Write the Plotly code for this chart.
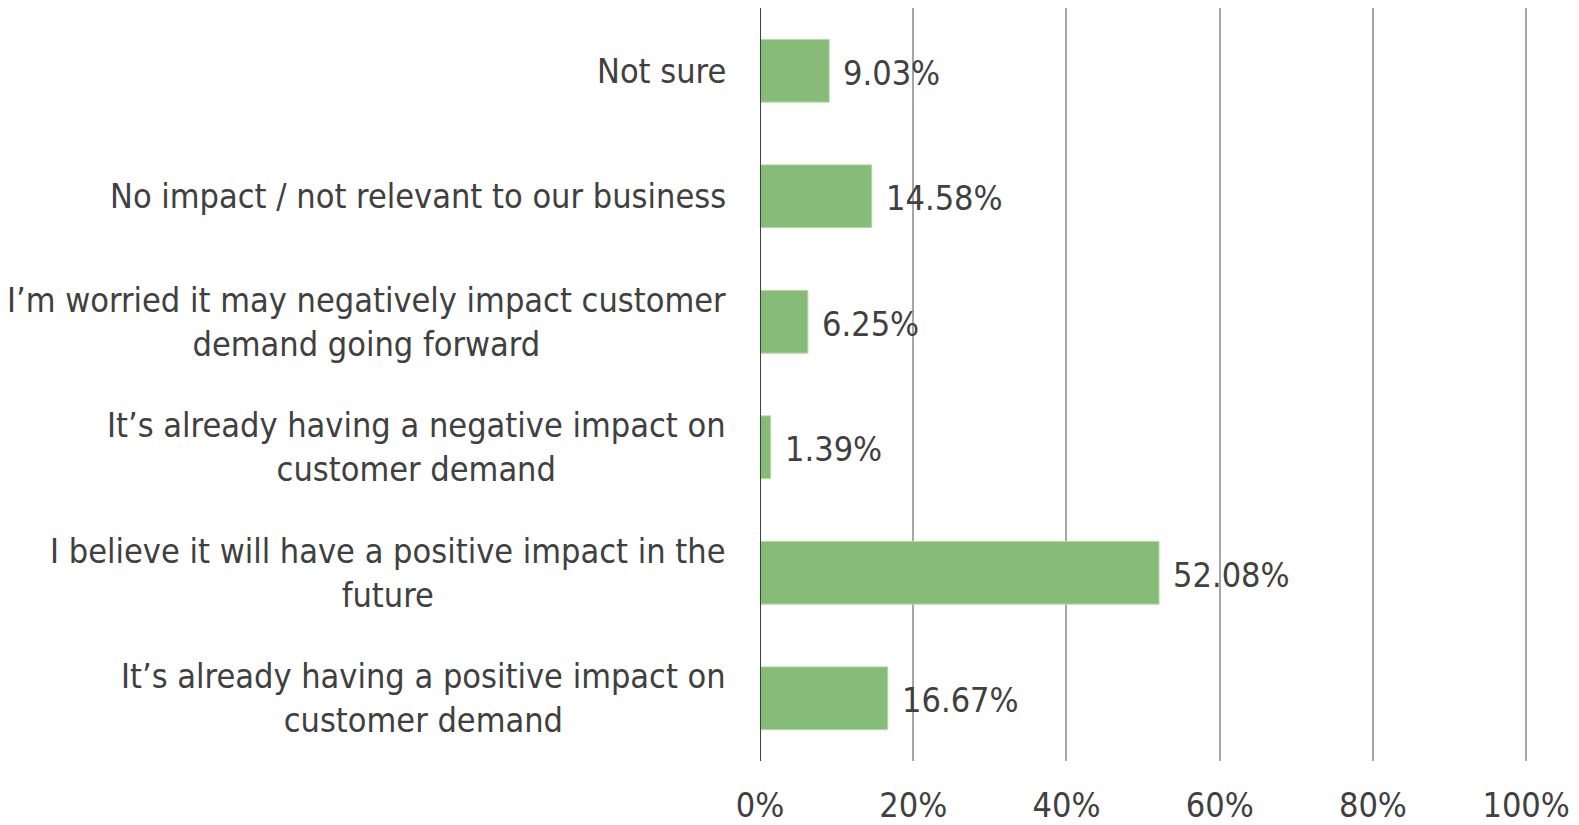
import plotly.graph_objects as go

categories = [
    "It’s already having a positive impact on<br>customer demand",
    "I believe it will have a positive impact in the<br>future",
    "It’s already having a negative impact on<br>customer demand",
    "I’m worried it may negatively impact customer<br>demand going forward",
    "No impact / not relevant to our business",
    "Not sure",
]
values = [16.67, 52.08, 1.39, 6.25, 14.58, 9.03]
tick_vals = [0, 20, 40, 60, 80, 100]
tick_text = ["0%", "20%", "40%", "60%", "80%", "100%"]

FONT = "DejaVu Sans Condensed"
TXT = "#404040"
FS = 34

fig = go.Figure()
fig.add_trace(go.Bar(
    x=values, y=list(range(len(categories))), orientation="h",
    marker=dict(color="#86BC78", line=dict(color="#B5D8A8", width=1)),
    width=0.5, hoverinfo="skip",
))

annotations = []
for i, (c, v) in enumerate(zip(categories, values)):
    annotations.append(dict(
        x=0, y=i, xref="x", yref="y", text=c, showarrow=False,
        xanchor="right", yanchor="middle", align="center", xshift=-32,
        font=dict(family=FONT, size=FS, color=TXT),
    ))
    annotations.append(dict(
        x=v, y=i, xref="x", yref="y", text=f"{v:.2f}%", showarrow=False,
        xanchor="left", yanchor="middle", xshift=12, yshift=-2,
        font=dict(family=FONT, size=FS, color=TXT),
    ))

fig.update_layout(
    width=1571, height=817,
    margin=dict(l=752, r=49, t=0, b=49),
    paper_bgcolor="white", plot_bgcolor="white",
    showlegend=False,
    annotations=annotations,
    xaxis=dict(
        range=[0, 100.5], tickvals=tick_vals, ticktext=tick_text,
        showgrid=True, gridcolor="#A6A6A6", gridwidth=2,
        zeroline=False, showline=False,
        tickfont=dict(family=FONT, size=FS, color=TXT),
        ticks="", ticklabelstandoff=21,
    ),
    yaxis=dict(
        range=[-0.5, 5.5], showticklabels=False, showgrid=False,
        zeroline=False, showline=False, ticks="",
    ),
    shapes=[dict(type="line", xref="x", yref="paper", x0=0, x1=0, y0=0, y1=1,
                 line=dict(color="#404040", width=2))],
)

fig.write_html("out.html")
